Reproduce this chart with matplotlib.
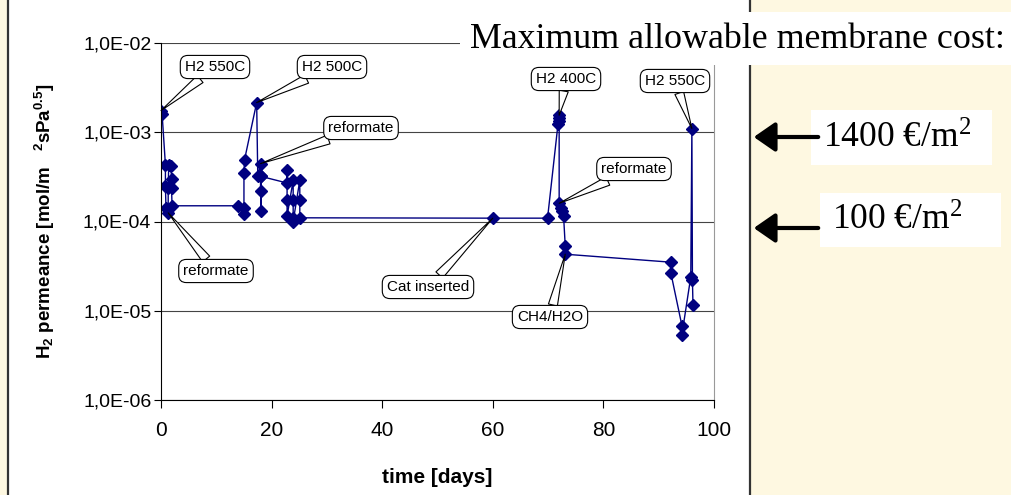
import matplotlib
matplotlib.use('Agg')
import matplotlib.pyplot as plt
import matplotlib.patches as mpatches

days = [0.0, 0.2, 0.8, 0.8, 0.9, 1.3, 1.3, 1.4, 1.8, 1.9, 1.9, 2.0,
        14.0, 15.0, 15.0, 15.0, 15.1, 17.3, 17.5, 18.0, 18.0, 18.0, 18.1, 18.1,
        22.8, 22.8, 22.8, 22.8, 23.9, 23.9, 23.9, 23.9, 25.1, 25.1, 25.1,
        60.0, 69.9, 71.8, 71.9, 71.9, 72.0, 72.0, 72.3, 72.5, 72.8, 73.1, 73.1,
        92.2, 92.2, 94.2, 94.2, 95.8, 96.0, 96.1, 96.2]
permeance = [1.75e-3, 1.6e-3, 4.3e-4, 2.5e-4, 1.4e-4, 1.25e-4, 2.4e-4, 4.3e-4, 4.2e-4, 3.0e-4, 2.4e-4, 1.5e-4,
             1.5e-4, 1.22e-4, 1.42e-4, 3.5e-4, 4.9e-4, 2.15e-3, 3.2e-4, 4.45e-4, 3.2e-4, 2.2e-4, 1.3e-4, 3.2e-4,
             2.7e-4, 3.8e-4, 1.75e-4, 1.15e-4, 2.9e-4, 1.75e-4, 1.1e-4, 1.0e-4, 2.9e-4, 1.75e-4, 1.1e-4,
             1.09e-4, 1.09e-4, 1.25e-3, 1.35e-3, 1.45e-3, 1.55e-3, 1.6e-4, 1.4e-4, 1.3e-4, 1.15e-4, 5.3e-5, 4.3e-5,
             3.5e-5, 2.65e-5, 6.8e-6, 5.4e-6, 2.4e-5, 1.1e-3, 2.2e-5, 1.15e-5]

yticks = [1e-6, 1e-5, 1e-4, 1e-3, 1e-2]
ytick_labels = ['1,0E-06', '1,0E-05', '1,0E-04', '1,0E-03', '1,0E-02']
xticks = [0, 20, 40, 60, 80, 100]

# callouts: text, index of point, text centre (image pixels)
callouts = [('H2 550C', 0, (215, 67)),
            ('H2 500C', 17, (332, 67)),
            ('reformate', 19, (361, 128)),
            ('reformate', 5, (216, 271)),
            ('Cat inserted', 35, (428, 287)),
            ('H2 400C', 40, (566, 79)),
            ('H2 550C', 52, (675, 81)),
            ('reformate', 41, (634, 169)),
            ('CH4/H2O', 46, (550, 317))]

cost_labels = [r'1400 €/m$^{\mathregular{2}}$', r'100 €/m$^{\mathregular{2}}$']

W, H = 1012, 495
plt.rcParams['font.family'] = ['Liberation Sans', 'DejaVu Sans']
plt.rcParams['mathtext.fontset'] = 'custom'
plt.rcParams['mathtext.rm'] = 'Liberation Sans:bold'
plt.rcParams['mathtext.bf'] = 'Liberation Sans:bold'
plt.rcParams['mathtext.it'] = 'Liberation Sans:bold'

fig = plt.figure(figsize=(W / 100, H / 100), dpi=100, facecolor='#FEF8E1')


def fx(px):
    return px / W


def fy(py):
    return 1 - py / H


# white chart area with dark frame
fig.add_artist(mpatches.Rectangle((fx(8), fy(520)), fx(742), 530 / H, transform=fig.transFigure,
                                  fc='white', ec='#333333', lw=1.6, zorder=0))

ax = fig.add_axes([fx(161), fy(400), fx(553), 357 / H])
ax.set_facecolor('white')
ax.plot(days, permeance, color='#000080', lw=1.0, marker='D', markersize=6.5,
        markerfacecolor='#000080', markeredgecolor='#000080')
ax.set_yscale('log')
ax.set_ylim(1e-6, 1e-2)
ax.set_xlim(0, 100)
ax.set_yticks(yticks)
ax.set_yticklabels(ytick_labels)
ax.minorticks_off()
ax.set_xticks(xticks)
ax.tick_params(axis='y', labelsize=14, direction='out', length=5, pad=2)
ax.tick_params(axis='x', labelsize=15, direction='out', length=6, pad=9)
ax.grid(axis='y', color='#444444', lw=0.8)
ax.spines['top'].set_visible(False)
ax.spines['right'].set_color('#999999')
ax.spines['left'].set_color('black')
ax.spines['bottom'].set_color('black')

ax.set_xlabel('time [days]', fontsize=15, fontweight='bold')
ax.xaxis.set_label_coords(0.5, -0.19)
ax.set_ylabel(r'H$_2$ permeance [mol/m   $^{2}$sPa$^{0.5}$]', fontsize=13.5, fontweight='bold', va='center')
ax.yaxis.set_label_coords(-0.209, 0.5)

for text, idx, (tx, ty) in callouts:
    ax.annotate(text, xy=(days[idx], permeance[idx]), xytext=(tx, H - ty), textcoords='figure pixels',
                ha='center', va='center', fontsize=11, annotation_clip=False,
                bbox=dict(boxstyle='round,pad=0.3,rounding_size=0.5', fc='white', ec='black', lw=0.8),
                arrowprops=dict(arrowstyle='wedge,tail_width=0.6,shrink_factor=0.5', fc='white',
                                ec='black', lw=0.8, shrinkA=0, shrinkB=0))

# right-hand panel
fig.add_artist(mpatches.Rectangle((fx(460), fy(65)), fx(560), 53 / H, transform=fig.transFigure,
                                  fc='white', ec='none', zorder=5))
fig.text(fx(470), fy(40), 'Maximum allowable membrane cost:', family='Liberation Serif',
         fontsize=25.8, va='center', ha='left', zorder=6)

boxes = [(811, 110, 181, 55, 823, 138, 137), (820, 193, 181, 54, 832, 220, 228)]
for label, (bx, by, bw, bh, tx, ty, ay) in zip(cost_labels, boxes):
    fig.add_artist(mpatches.Rectangle((fx(bx), fy(by + bh)), fx(bw), bh / H, transform=fig.transFigure,
                                      fc='white', ec='none', zorder=5))
    fig.text(fx(tx), fy(ty), label, family='Liberation Serif', fontsize=25.5, va='center',
             ha='left', zorder=6, math_fontfamily='stix')
    fig.add_artist(mpatches.FancyArrowPatch((fx(821), fy(ay)), (fx(751), fy(ay)), transform=fig.transFigure,
                                            arrowstyle=mpatches.ArrowStyle('-|>', head_length=1.3, head_width=0.9),
                                            mutation_scale=10, lw=3, color='black', zorder=7))

fig.savefig('out.png', dpi=100, facecolor=fig.get_facecolor())
